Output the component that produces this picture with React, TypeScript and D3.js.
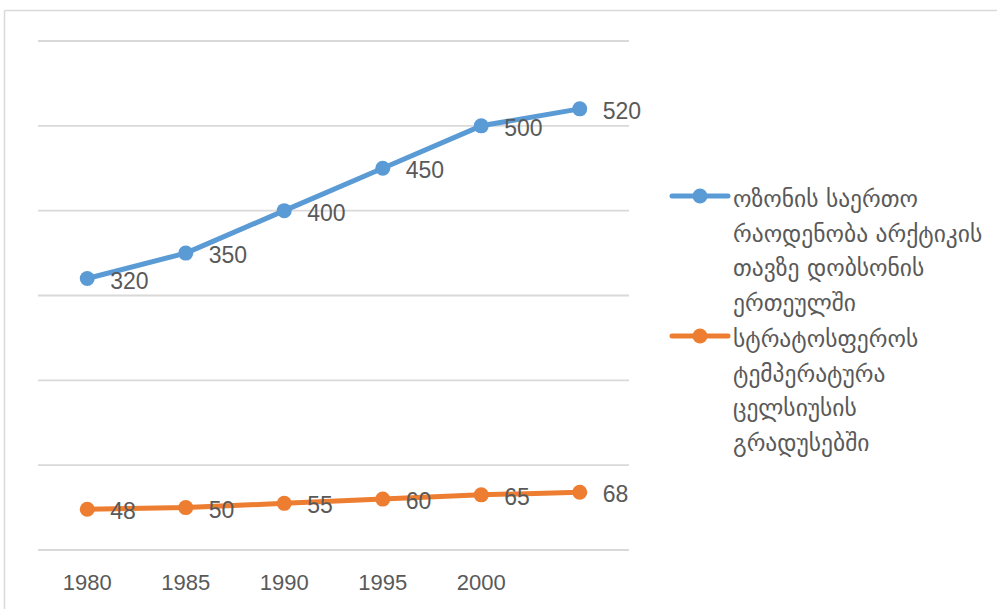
import React from "react";
import * as d3 from "d3";

const categories = ["1980", "1985", "1990", "1995", "2000", "2005"];
const tickLabels = ["1980", "1985", "1990", "1995", "2000", ""];
const ozoneValues = [320, 350, 400, 450, 500, 520];
const tempValues = [48, 50, 55, 60, 65, 68];
const yTicks = [0, 100, 200, 300, 400, 500, 600];
const ozoneLegend = ["ოზონის საერთო", "რაოდენობა არქტიკის", "თავზე დობსონის", "ერთეულში"];
const tempLegend = ["სტრატოსფეროს", "ტემპერატურა", "ცელსიუსის", "გრადუსებში"];

const W = 997;
const H = 609;
const textColor = "#595959";
const numFont = "'Liberation Sans Narrow', 'Liberation Sans', Arial, sans-serif";
const geoFont = "'DejaVu Sans', sans-serif";

export default function App() {
  const x = d3.scaleBand<string>().domain(categories).range([38, 629]);
  const y = d3.scaleLinear().domain([0, 600]).range([550, 41]);
  const cx = (c: string) => (x(c) ?? 0) + x.bandwidth() / 2;
  const line = d3
    .line<number>()
    .x((_, i) => cx(categories[i]))
    .y((d) => y(d));

  const series = [
    { values: ozoneValues, color: "#5B9BD5", legend: ozoneLegend, ly: 196 },
    { values: tempValues, color: "#ED7D31", legend: tempLegend, ly: 336 },
  ];

  return (
    <svg
      width={W}
      height={H}
      style={{ position: "absolute", left: 0, top: 0, background: "#fff" }}
    >
      <rect x={0} y={0} width={W} height={H} fill="#fff" />
      <line x1={4.5} y1={10.5} x2={W} y2={10.5} stroke="#D9D9D9" strokeWidth={1.5} />
      <line x1={4.5} y1={10.5} x2={4.5} y2={H} stroke="#D9D9D9" strokeWidth={1.5} />
      {yTicks.map((t) => (
        <line
          key={t}
          x1={38}
          x2={629}
          y1={y(t)}
          y2={y(t)}
          stroke="#D9D9D9"
          strokeWidth={1.8}
        />
      ))}
      {categories.map((c, i) => (
        <text
          key={c}
          x={cx(c)}
          y={582}
          textAnchor="middle"
          dominantBaseline="central"
          fontFamily={numFont}
          fontSize={22}
          fill={textColor}
        >
          {tickLabels[i]}
        </text>
      ))}
      {series.map((s, si) => (
        <g key={si}>
          <path
            d={line(s.values) ?? ""}
            fill="none"
            stroke={s.color}
            strokeWidth={5}
            strokeLinejoin="round"
            strokeLinecap="round"
          />
          {s.values.map((v, i) => (
            <circle key={i} cx={cx(categories[i])} cy={y(v)} r={7.5} fill={s.color} />
          ))}
          {s.values.map((v, i) => (
            <text
              key={"l" + i}
              x={cx(categories[i]) + 23}
              y={y(v) + 2}
              dominantBaseline="central"
              fontFamily={numFont}
              fontSize={23}
              fill={textColor}
            >
              {v}
            </text>
          ))}
          <line
            x1={672}
            x2={728}
            y1={s.ly}
            y2={s.ly}
            stroke={s.color}
            strokeWidth={5}
            strokeLinecap="round"
          />
          <circle cx={700} cy={s.ly} r={7.5} fill={s.color} />
          {s.legend.map((t, li) => (
            <text
              key={li}
              x={733}
              y={s.ly + 3 + li * 34.5}
              dominantBaseline="central"
              fontFamily={geoFont}
              fontSize={23.5}
              fill={textColor}
            >
              {t}
            </text>
          ))}
        </g>
      ))}
    </svg>
  );
}
